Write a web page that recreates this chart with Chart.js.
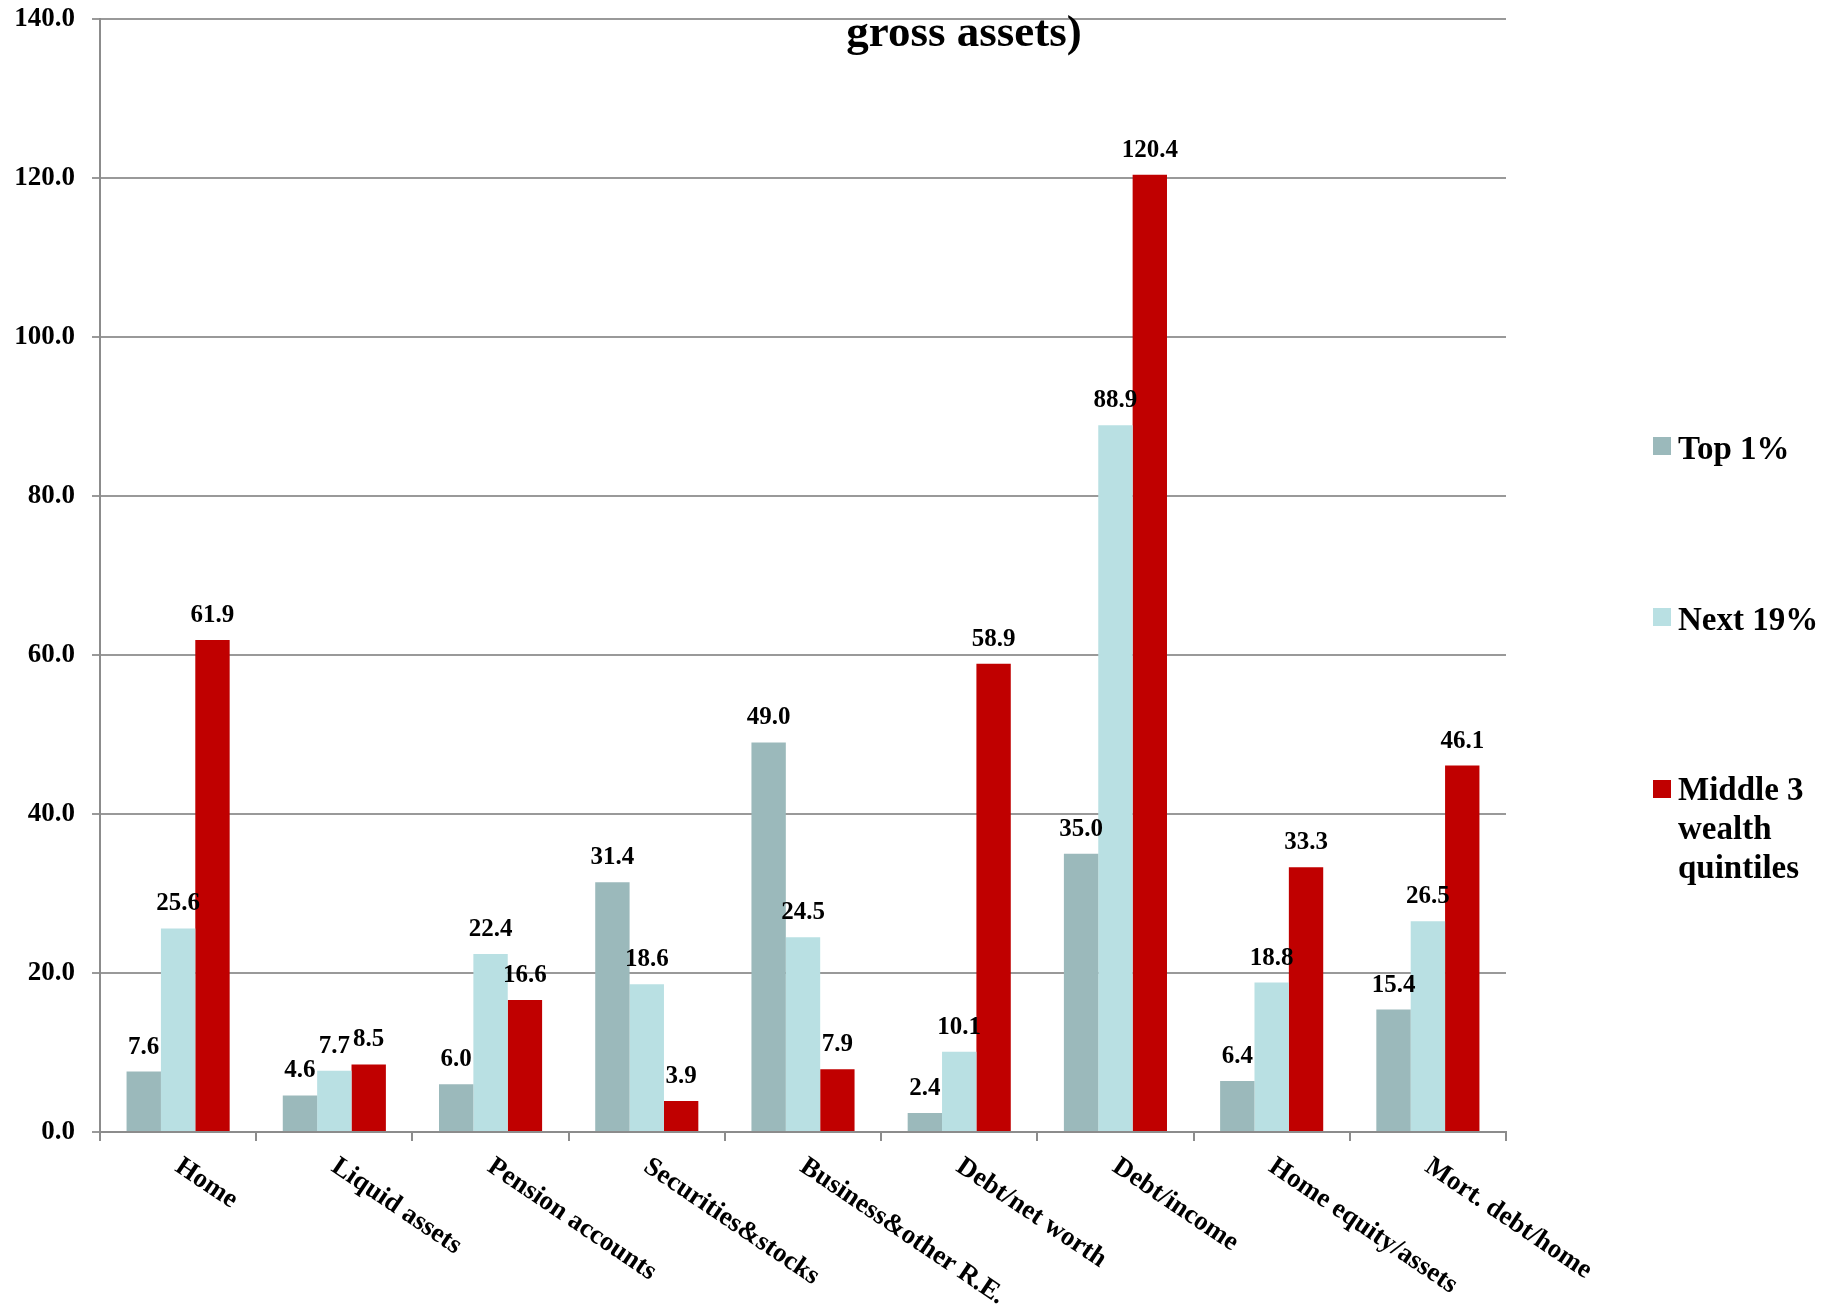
<!DOCTYPE html>
<html>
<head>
<meta charset="utf-8">
<script src="https://cdn.jsdelivr.net/npm/chart.js@4.4.1/dist/chart.umd.min.js"></script>
<style>
  html,body{margin:0;padding:0;background:#fff;}
  canvas{display:block;}
</style>
</head>
<body>
<canvas id="wealthChart" width="1836" height="1314"></canvas>
<script>
// data
const categories = ['Home','Liquid assets','Pension accounts','Securities&stocks','Business&other R.E.','Debt/net worth','Debt/income','Home equity/assets','Mort. debt/home'];
const top1 = [7.6,4.6,6.0,31.4,49.0,2.4,35.0,6.4,15.4];
const next19 = [25.6,7.7,22.4,18.6,24.5,10.1,88.9,18.8,26.5];
const middle3 = [61.9,8.5,16.6,3.9,7.9,58.9,120.4,33.3,46.1];
const seriesNames = ['Top 1%','Next 19%',['Middle 3','wealth','quintiles']];
const seriesColors = ['#9bb9bb','#b9e0e3','#c00000'];
const titleText = 'gross assets)';

const SERIF = '"Liberation Serif","Times New Roman",serif';

//value labels on top of bars
const barLabels = {
    id:'barLabels',
    afterDatasetsDraw(chart){
        const ctx = chart.ctx;
        ctx.save();
        ctx.font = 'bold 25px '+SERIF;
        ctx.fillStyle = '#000';
        ctx.textAlign = 'center';
        ctx.textBaseline = 'alphabetic';
        chart.data.datasets.forEach((ds,i)=>{
            chart.getDatasetMeta(i).data.forEach((bar,j)=>{
                ctx.fillText(ds.data[j].toFixed(1), bar.x, bar.y - 18);
            });
        });
        ctx.restore();
    }
};

//slanted category names, title and legend
const extras = {
    id:'extras',
    afterDraw(chart){
        const ctx = chart.ctx, xs = chart.scales.x;
        ctx.save();
        ctx.fillStyle = '#000';
        //category labels going down to the right
        ctx.font = 'bold 27px '+SERIF;
        ctx.textAlign = 'left';
        ctx.textBaseline = 'top';
        categories.forEach((c,i)=>{
            const cx = xs.getPixelForValue(i);
            ctx.save();
            ctx.translate(cx + 7, xs.top + 21);
            ctx.rotate(34*Math.PI/180);
            ctx.fillText(c,0,0);
            ctx.restore();
        });
        //title (only second line is visible)
        ctx.font = 'bold 45px '+SERIF;
        ctx.textAlign = 'center';
        ctx.textBaseline = 'alphabetic';
        ctx.fillText(titleText, 964, 46);
        //legend
        ctx.font = 'bold 33px '+SERIF;
        ctx.textAlign = 'left';
        const boxY = [437,608,780];
        const textY = [459,630,800];
        seriesNames.forEach((n,i)=>{
            ctx.fillStyle = seriesColors[i];
            ctx.fillRect(1653, boxY[i], 18, 18);
            ctx.fillStyle = '#000';
            const lines = Array.isArray(n) ? n : [n];
            lines.forEach((l,k)=>{
                ctx.fillText(l, 1678, textY[i] + k*39);
            });
        });
        ctx.restore();
    }
};

const ctx = document.getElementById('wealthChart').getContext('2d');
const chart = new Chart(ctx,{
    type:'bar',
    data:{
        labels:categories,
        datasets:[
            {label:'Top 1%',data:top1,backgroundColor:seriesColors[0]},
            {label:'Next 19%',data:next19,backgroundColor:seriesColors[1]},
            {label:'Middle 3 wealth quintiles',data:middle3,backgroundColor:seriesColors[2]}
        ]
    },
    options:{
        responsive:false,
        animation:false,
        devicePixelRatio:1,
        layout:{padding:{left:0,right:330,top:19,bottom:0}},
        datasets:{bar:{categoryPercentage:0.66,barPercentage:1.0}},
        plugins:{legend:{display:false},title:{display:false},tooltip:{enabled:false}},
        scales:{
            x:{
                grid:{offset:true,drawOnChartArea:false,drawTicks:true,tickLength:9,color:'#8c8c8c',lineWidth:2},
                border:{display:true,color:'#8c8c8c',width:2},
                ticks:{display:false},
                afterFit(s){ s.height = 182; s.paddingLeft = 0; s.paddingRight = 0; }
            },
            y:{
                min:0,max:140,
                ticks:{stepSize:20,color:'#000',padding:17,
                    font:{family:SERIF,size:27,weight:'bold'},
                    callback:(v)=>Number(v).toFixed(1)},
                grid:{color:'#999999',lineWidth:2,tickLength:8,drawTicks:true},
                border:{display:true,color:'#8c8c8c',width:2},
                afterFit(s){ s.width = 100; s.paddingTop = 0; s.paddingBottom = 0; }
            }
        }
    },
    plugins:[barLabels,extras]
});
</script>
</body>
</html>
